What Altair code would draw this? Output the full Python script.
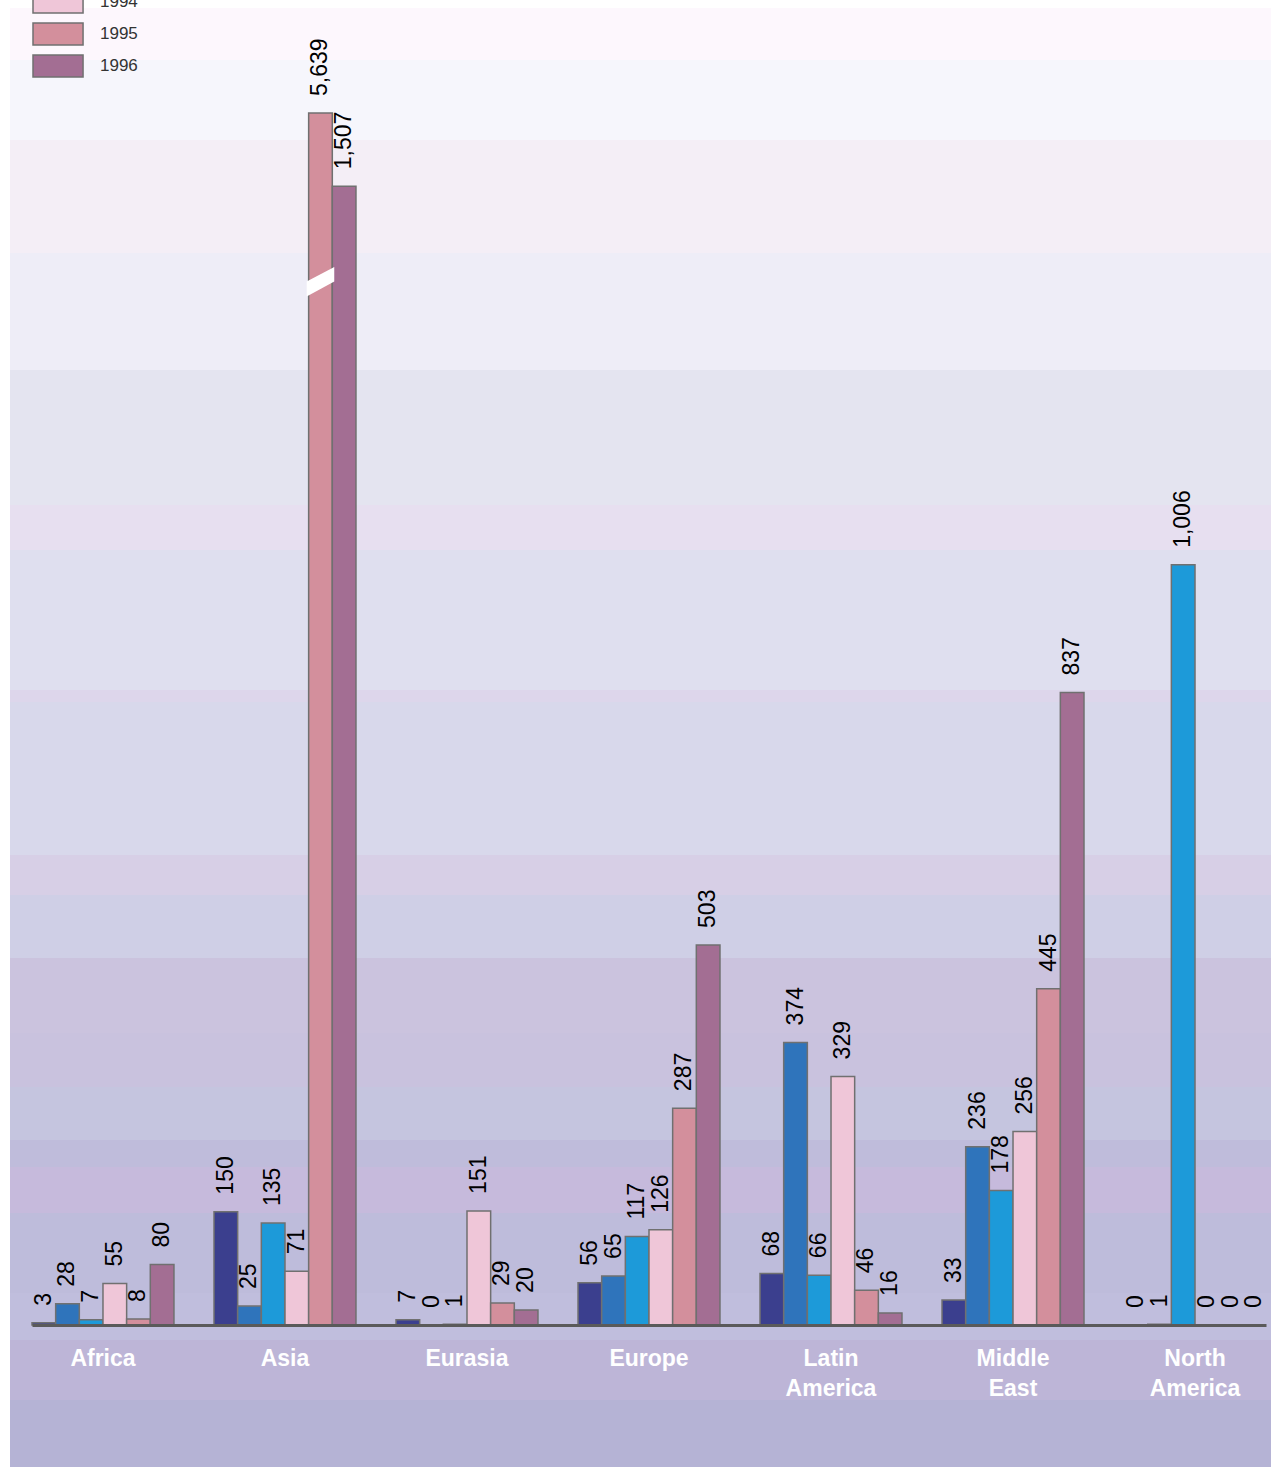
import altair as alt
import pandas as pd

# Regions along the x axis and the years shown in each group
regions = ["Africa", "Asia", "Eurasia", "Europe", "Latin America", "Middle East", "North America"]
years = ["1991", "1992", "1993", "1994", "1995", "1996"]

# Values per year, in region order
v1991 = [3, 150, 7, 56, 68, 33, 0]
v1992 = [28, 25, 0, 65, 374, 236, 1]
v1993 = [7, 135, 1, 117, 66, 178, 1006]
v1994 = [55, 71, 151, 126, 329, 256, 0]
v1995 = [8, 5639, 29, 287, 46, 445, 0]
v1996 = [80, 1507, 20, 503, 16, 837, 0]

year_colors = ["#3b3f8e", "#2f74bb", "#1d9ad9", "#efc6d8", "#d38f9c", "#a36e93"]

# Axis ceiling; the Asia 1995 bar runs past it and is drawn broken
Y_MAX = 1604
BREAK_AT = 1381

series = [v1991, v1992, v1993, v1994, v1995, v1996]
rows = []
for year, vals in zip(years, series):
    for region, v in zip(regions, vals):
        rows.append({"region": region, "year": year, "value": v})
df = pd.DataFrame(rows)

brk = pd.DataFrame([{"region": "Asia", "year": "1995", "value": BREAK_AT}])

FONT = "Liberation Sans"

x_enc = alt.X("region:N", scale=alt.Scale(domain=regions, paddingInner=0.22, paddingOuter=0),
              axis=alt.Axis(title=None, labelExpr="split(datum.value, ' ')", labelAngle=0,
                            labelColor="white", labelFont=FONT, labelFontSize=23,
                            labelFontWeight="bold", labelLineHeight=30, labelPadding=22,
                            ticks=False, domainColor="#5a5a5a", domainWidth=3,
                            grid=False, zindex=1))
xo_enc = alt.XOffset("year:N", scale=alt.Scale(domain=years, paddingInner=0, paddingOuter=0))
y_enc = alt.Y("value:Q", scale=alt.Scale(domain=[0, Y_MAX], clamp=True, nice=False), axis=None)

# Stepped background wash: (top pixel, colour) bands from top to bottom
bands = [
    (8, "#fdf7fd"), (60, "#f6f6fc"), (140, "#f4eef6"), (253, "#eeedf7"),
    (370, "#e4e4f0"), (505, "#e7dff0"), (550, "#dfdfef"), (690, "#ddd6eb"),
    (702, "#d8d8eb"), (855, "#d7cfe6"), (895, "#cfcfe6"), (958, "#cbc3de"),
    (1033, "#c9c2de"), (1087, "#c5c5df"), (1140, "#bfbcdb"), (1167, "#c6badc"),
    (1213, "#bebcdb"), (1293, "#c0bedd"), (1340, "#bdb5d7"), (1400, "#b5b3d5"),
]
top, bottom = 8, 1467
stops = []
for i, (y0, c) in enumerate(bands):
    y1 = bands[i + 1][0] if i + 1 < len(bands) else bottom
    stops.append({"offset": (y0 - top) / (bottom - top), "color": c})
    stops.append({"offset": (y1 - top) / (bottom - top), "color": c})

PAD_L, PAD_T = 32, 113
background = alt.Chart(alt.Data(values=[{}])).mark_rect(
    fill={"gradient": "linear", "x1": 0, "y1": 0, "x2": 0, "y2": 1, "stops": stops}
).encode(
    x=alt.value(10 - PAD_L), x2=alt.value(1271 - PAD_L),
    y=alt.value(top - PAD_T), y2=alt.value(bottom - PAD_T),
)

bars = alt.Chart(df).mark_bar(stroke="#707070", strokeWidth=1.5).encode(
    x=x_enc, xOffset=xo_enc, y=y_enc,
    color=alt.Color("year:N", scale=alt.Scale(domain=years, range=year_colors),
                    legend=alt.Legend(title=None, orient="none", legendX=0, legendY=-219,
                                      symbolType="M-1,-1H3.55V1H-1Z", symbolSize=484,
                                      symbolStrokeColor="#707070", symbolStrokeWidth=1.5,
                                      symbolOpacity=1, labelFont=FONT, labelFontSize=17,
                                      labelColor="#333333", labelOffset=44, rowPadding=4)),
)

cut = alt.Chart(brk).mark_point(
    shape="M-1.15,0L1.15,-1.2L1.15,0L-1.15,1.25Z", size=576, filled=True,
    fill="white", opacity=1, strokeWidth=0,
).encode(x=x_enc, xOffset=xo_enc, y=y_enc)

labels = alt.Chart(df).mark_text(
    angle=270, align="left", baseline="middle", dx=17, font=FONT, fontSize=23, color="black"
).encode(x=x_enc, xOffset=xo_enc, y=y_enc, text=alt.Text("value:Q", format=","))

chart = alt.layer(background, bars, cut, labels).properties(
    width=1234, height=1212,
    autosize=alt.AutoSizeParams(type="none"),
    padding={"left": PAD_L, "top": PAD_T, "right": 5, "bottom": 142},
).configure_view(stroke=None).configure(background="white")

chart.save("out.html", embed_options={"renderer": "svg", "actions": False})
